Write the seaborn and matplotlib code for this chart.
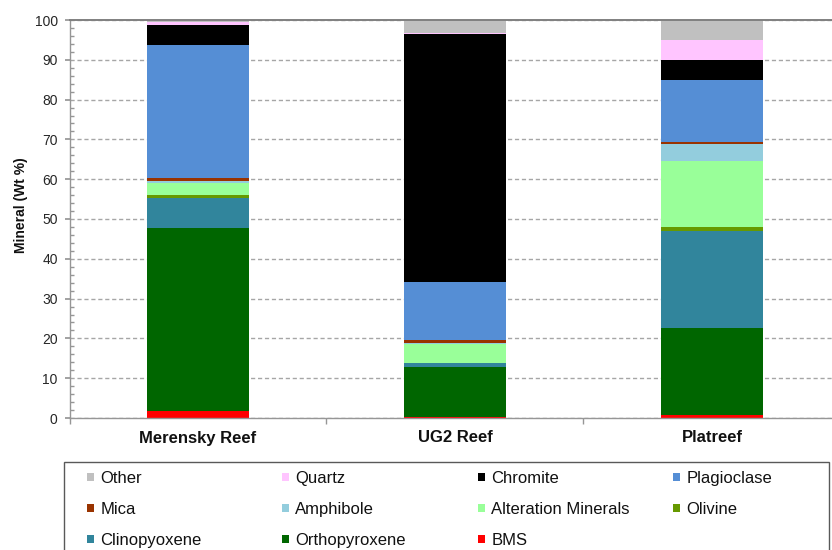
import matplotlib
matplotlib.use("Agg")
import matplotlib.pyplot as plt
from matplotlib.patches import Patch, Rectangle
from matplotlib.ticker import MultipleLocator, FixedLocator
import pandas as pd
import seaborn as sns

reefs = ["Merensky Reef", "UG2 Reef", "Platreef"]

# stacking order, bottom to top
minerals = ["BMS", "Orthopyroxene", "Clinopyoxene", "Olivine", "Alteration Minerals",
            "Amphibole", "Mica", "Plagioclase", "Chromite", "Quartz", "Other"]

bms = [1.7, 0.2, 0.8]
orthopyroxene = [46.0, 12.7, 21.7]
clinopyroxene = [7.7, 0.8, 24.6]
olivine = [0.6, 0.0, 1.0]
alteration = [3.1, 5.0, 16.5]
amphibole = [0.5, 0.2, 4.2]
mica = [0.8, 0.7, 0.5]
plagioclase = [33.3, 14.5, 15.7]
chromite = [5.0, 62.3, 4.9]
quartz = [0.7, 0.3, 5.0]
other = [0.6, 3.3, 5.1]

colors = {
    "BMS": "#FF0000",
    "Orthopyroxene": "#006600",
    "Clinopyoxene": "#31859C",
    "Olivine": "#669900",
    "Alteration Minerals": "#99FF99",
    "Amphibole": "#93CDDD",
    "Mica": "#993300",
    "Plagioclase": "#558ED5",
    "Chromite": "#000000",
    "Quartz": "#FFC5FF",
    "Other": "#C0C0C0",
}

df = pd.DataFrame({
    "BMS": bms,
    "Orthopyroxene": orthopyroxene,
    "Clinopyoxene": clinopyroxene,
    "Olivine": olivine,
    "Alteration Minerals": alteration,
    "Amphibole": amphibole,
    "Mica": mica,
    "Plagioclase": plagioclase,
    "Chromite": chromite,
    "Quartz": quartz,
    "Other": other,
}, index=reefs)
cum = df[minerals].cumsum(axis=1)

sns.set_theme(style="white")
plt.rcParams["font.family"] = ["Liberation Sans", "DejaVu Sans"]

fig = plt.figure(figsize=(8.32, 5.5), dpi=100)
ax = fig.add_axes([69.5 / 832, 1 - 418 / 550, 771 / 832, 398 / 550])

# draw cumulative tops, tallest first, so each layer covers the one below
for m in reversed(minerals):
    sns.barplot(x=reefs, y=cum[m].values, order=reefs, color=colors[m],
                width=0.4, saturation=1, errorbar=None, linewidth=0, ax=ax)

ax.set_xlim(-0.5, 2.5)
ax.set_ylim(0, 100)
ax.yaxis.set_major_locator(MultipleLocator(10))
ax.yaxis.set_minor_locator(MultipleLocator(2))
ax.yaxis.grid(True, which="major", linestyle=(0, (3, 2)), color="#A6A6A6", lw=1)
ax.xaxis.grid(False)
ax.set_axisbelow(True)

for side in ["left", "bottom"]:
    ax.spines[side].set_color("#969696")
    ax.spines[side].set_linewidth(1)
ax.spines["top"].set_color("#808080")
ax.spines["top"].set_linewidth(1.4)
ax.spines["right"].set_visible(False)

ax.set_xticks([0, 1, 2])
ax.set_xticklabels(reefs, fontsize=12, fontweight="bold", color="#111111")
ax.xaxis.set_minor_locator(FixedLocator([-0.5, 0.5, 1.5, 2.5]))
ax.tick_params(axis="x", which="major", length=0, pad=9)
ax.tick_params(axis="x", which="minor", length=4, direction="out", color="#969696", bottom=True)
ax.tick_params(axis="y", which="major", length=3.5, direction="out", color="#969696",
               labelsize=10, labelcolor="#262626", pad=5, left=True)
ax.tick_params(axis="y", which="minor", length=3, direction="in", color="#969696", left=True)

ax.set_xlabel("")
ax.set_ylabel("Mineral (Wt %)", fontsize=10, fontweight="bold", color="#111111")
ax.yaxis.set_label_coords((28 - 69.5) / 771, 0.535)

# legend frame
fig.add_artist(Rectangle((64 / 832, -0.02), (829 - 64) / 832, 0.02 + (550 - 462) / 550,
                         transform=fig.transFigure, fill=False, edgecolor="#595959", lw=1))

# legend laid out row-wise, top of stack first
legend_order = list(reversed(minerals))
col_x = [87, 282, 478, 673]
for j, x in enumerate(col_x):
    names = legend_order[j::4]
    handles = [Patch(facecolor=colors[n], edgecolor="none") for n in names]
    fig.legend(handles, names, loc="upper left", bbox_to_anchor=(x / 832, 1 - 471 / 550),
               frameon=False, fontsize=12, handlelength=0.4, handleheight=0.4,
               handletextpad=0.4, labelspacing=0.96, borderpad=0, borderaxespad=0,
               labelcolor="#111111")

fig.savefig("out.png", dpi=100)
